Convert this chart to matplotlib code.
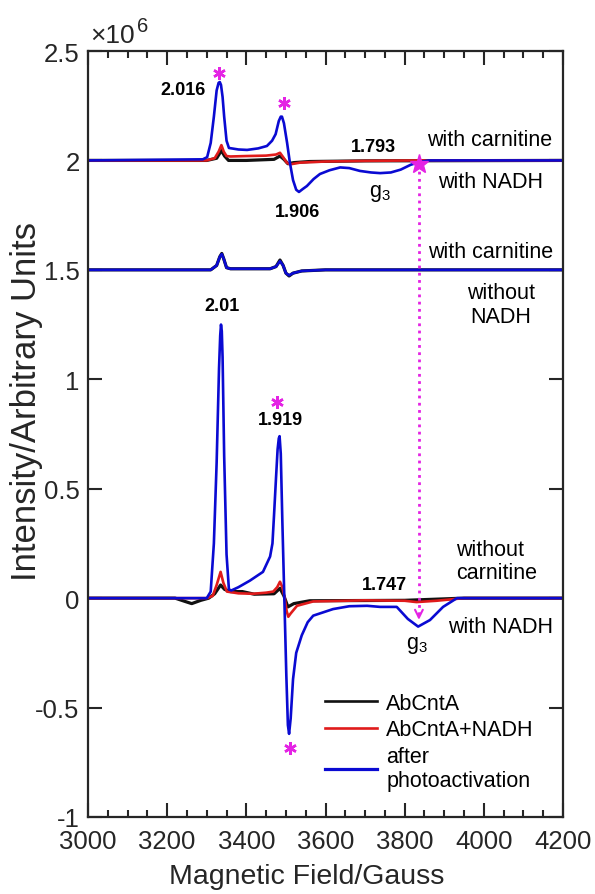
import matplotlib
matplotlib.use("Agg")
import matplotlib.pyplot as plt
from matplotlib.ticker import MultipleLocator, FixedLocator, FixedFormatter

plt.rcParams['font.family'] = ['Liberation Sans', 'DejaVu Sans']
plt.rcParams['mathtext.fontset'] = 'custom'
plt.rcParams['mathtext.rm'] = 'Liberation Sans'
plt.rcParams['mathtext.it'] = 'Liberation Sans:italic'
plt.rcParams['mathtext.bf'] = 'Liberation Sans:bold'

# ---------------- data (intensity in units of 1e6) ----------------
# bottom group: without carnitine / with NADH (offset 0)
bot_black_x = [3000, 3220, 3245, 3262, 3285, 3305, 3320, 3335, 3345, 3360, 3390, 3420, 3470, 3485, 3495, 3505, 3520, 3560, 3800, 3950, 4200]
bot_black_y = [0, 0, -0.015, -0.025, -0.01, 0, 0.02, 0.06, 0.04, 0.03, 0.03, 0.018, 0.02, 0.045, 0.01, -0.04, -0.025, -0.012, -0.01, 0, 0]

bot_red_x = [3000, 3300, 3315, 3325, 3335, 3342, 3351, 3380, 3417, 3450, 3468, 3478, 3485, 3491, 3497, 3502, 3506, 3512, 3528, 3569, 3700, 3800, 3830, 3880, 3950, 4200]
bot_red_y = [0, 0, 0.01, 0.06, 0.12, 0.07, 0.03, 0.022, 0.02, 0.025, 0.03, 0.05, 0.075, 0.05, 0.0, -0.06, -0.085, -0.07, -0.035, -0.015, -0.01, -0.012, -0.018, -0.012, 0.0, 0]

bot_blue_x = [3000, 3100, 3200, 3250, 3300, 3310, 3318, 3325, 3331, 3334, 3336, 3338, 3340, 3344, 3350, 3356, 3362, 3380, 3409, 3442, 3460, 3466, 3470, 3475, 3479, 3482, 3484, 3487, 3491, 3496, 3501, 3505, 3508, 3512, 3518, 3526, 3540, 3555, 3569, 3619, 3660, 3705, 3738, 3780, 3808, 3834, 3864, 3897, 3932, 3950, 4200]
bot_blue_y = [0, 0, 0, 0, 0.0, 0.03, 0.25, 0.62, 1.05, 1.2, 1.25, 1.22, 1.1, 0.65, 0.2, 0.04, 0.035, 0.05, 0.08, 0.12, 0.19, 0.25, 0.38, 0.55, 0.68, 0.73, 0.74, 0.66, 0.35, 0.0, -0.35, -0.58, -0.62, -0.55, -0.37, -0.25, -0.17, -0.11, -0.08, -0.05, -0.037, -0.035, -0.04, -0.04, -0.095, -0.13, -0.10, -0.04, 0.0, 0, 0]

# middle group: with carnitine / without NADH (offset 1.5)
mid_black_x = [3000, 3310, 3325, 3333, 3338, 3343, 3350, 3360, 3460, 3475, 3485, 3493, 3500, 3508, 3518, 3540, 3600, 4200]
mid_black_y = [1.5, 1.5, 1.52, 1.56, 1.575, 1.55, 1.51, 1.505, 1.505, 1.515, 1.545, 1.52, 1.485, 1.472, 1.485, 1.495, 1.5, 1.5]
mid_blue_x = [3000, 3310, 3325, 3333, 3338, 3343, 3350, 3360, 3460, 3475, 3485, 3493, 3500, 3508, 3518, 3540, 3600, 4200]
mid_blue_y = [1.5, 1.5, 1.52, 1.56, 1.572, 1.55, 1.51, 1.505, 1.505, 1.515, 1.54, 1.52, 1.485, 1.475, 1.485, 1.495, 1.5, 1.5]

# top group: with carnitine / with NADH (offset 2.0)
top_black_x = [3000, 3300, 3325, 3337, 3345, 3355, 3400, 3470, 3485, 3495, 3505, 3520, 3560, 3700, 4200]
top_black_y = [2.0, 2.0, 2.01, 2.045, 2.02, 2.0, 2.0, 2.005, 2.02, 2.005, 1.985, 1.99, 1.995, 1.998, 2.0]

top_red_x = [3000, 3300, 3320, 3330, 3337, 3343, 3350, 3360, 3400, 3450, 3475, 3485, 3493, 3502, 3510, 3520, 3536, 3600, 3700, 3836, 4200]
top_red_y = [2.0, 2.0, 2.01, 2.04, 2.07, 2.04, 2.02, 2.018, 2.02, 2.022, 2.027, 2.035, 2.015, 1.99, 1.982, 1.985, 1.99, 1.995, 1.998, 2.0, 2.0]

top_blue_x = [3000, 3290, 3301, 3310, 3318, 3325, 3330, 3333, 3336, 3340, 3344, 3350, 3356, 3380, 3402, 3430, 3452, 3465, 3474, 3482, 3487, 3490, 3495, 3503, 3510, 3518, 3526, 3533, 3543, 3553, 3570, 3586, 3610, 3637, 3660, 3687, 3715, 3738, 3765, 3790, 3815, 3836, 3860, 4200]
top_blue_y = [2.0, 2.005, 2.015, 2.08, 2.2, 2.32, 2.355, 2.358, 2.345, 2.29, 2.2, 2.09, 2.057, 2.05, 2.048, 2.055, 2.066, 2.09, 2.12, 2.18, 2.2, 2.2, 2.17, 2.08, 1.99, 1.91, 1.866, 1.856, 1.87, 1.883, 1.915, 1.938, 1.955, 1.968, 1.965, 1.952, 1.945, 1.942, 1.945, 1.958, 1.98, 1.992, 2.0, 2.0]

legend_labels = ['AbCntA', 'AbCntA+NADH', 'after\nphotoactivation']
x_ticks = [3000, 3200, 3400, 3600, 3800, 4000, 4200]
y_ticks = [-1, -0.5, 0, 0.5, 1, 1.5, 2, 2.5]
y_ticklabels = ['-1', '-0.5', '0', '0.5', '1', '1.5', '2', '2.5']

# ---------------- figure ----------------
W, H = 595, 895
fig = plt.figure(figsize=(W / 100, H / 100), dpi=100)
ax = fig.add_axes([88 / W, 77 / H, 475 / W, 766 / H])

BLACK = '#111111'
RED = '#e01b1b'
BLUE = '#0a0ad2'
MAG = '#e423e4'
LW = 1.9

for xs, ys in [(bot_black_x, bot_black_y), (mid_black_x, mid_black_y), (top_black_x, top_black_y)]:
    ax.plot(xs, ys, color=BLACK, lw=LW + 0.4)
for xs, ys in [(bot_red_x, bot_red_y), (top_red_x, top_red_y)]:
    ax.plot(xs, ys, color=RED, lw=LW)
for xs, ys in [(bot_blue_x, bot_blue_y), (mid_blue_x, mid_blue_y), (top_blue_x, top_blue_y)]:
    ax.plot(xs, ys, color=BLUE, lw=LW)

# legend proxies
h1, = ax.plot([], [], color=BLACK, lw=LW)
h2, = ax.plot([], [], color=RED, lw=LW)
h3, = ax.plot([], [], color=BLUE, lw=LW + 0.4)
ax.legend([h1, h2, h3], legend_labels, loc='upper left',
          bbox_to_anchor=((325 - 88) / 475, (818 - 694) / 766),
          frameon=False, fontsize=15.5, handlelength=2.4, handletextpad=0.45,
          labelspacing=0.25, borderpad=0, borderaxespad=0)

ax.set_xlim(3000, 4200)
ax.set_ylim(-1, 2.5)
ax.xaxis.set_major_locator(FixedLocator(x_ticks))
ax.xaxis.set_minor_locator(MultipleLocator(50))
ax.yaxis.set_major_locator(FixedLocator(y_ticks))
ax.yaxis.set_major_formatter(FixedFormatter(y_ticklabels))
ax.tick_params(which='both', direction='in', top=True, right=True, width=1.5, colors='#262626', labelcolor='#262626')
ax.tick_params(which='major', length=10, labelsize=18.5)
ax.tick_params(axis='y', which='major', pad=6)
ax.tick_params(axis='x', which='major', pad=9)
ax.tick_params(which='minor', length=5)
for s in ax.spines.values():
    s.set_linewidth(1.6)
    s.set_color('#262626')

ax.set_xlabel('Magnetic Field/Gauss', fontsize=20.5, color='#262626')
ax.xaxis.set_label_coords((306.5 - 88) / 475, -0.060)
ax.set_ylabel('Intensity/Arbitrary Units', fontsize=25, color='#262626')
ax.yaxis.set_label_coords(-0.095, 0.544)

fig.text(90 / W, 1 - 43 / H, '\u00d710', fontsize=19, color='#262626', va='baseline', ha='left')
fig.text(137 / W, 1 - 32 / H, '6', fontsize=14.5, color='#262626', va='baseline', ha='left')

# annotations
bold = dict(fontsize=13, fontweight='bold', ha='center', va='center', color='black')
ax.text(3239, 2.326, '2.016', **bold)
ax.text(3720, 2.065, '1.793', **bold)
ax.text(3530, 1.768, '1.906', **bold)
ax.text(3338, 1.336, '2.01', **bold)
ax.text(3485, 0.818, '1.919', **bold)
ax.text(3750, 0.064, '1.747', **bold)

norm = dict(fontsize=15.5, va='center', color='black')
ax.text(3856, 2.097, 'with carnitine', ha='left', **norm)
ax.text(3884, 1.905, 'with NADH', ha='left', **norm)
ax.text(3859, 1.586, 'with carnitine', ha='left', **norm)
ax.text(4043, 1.341, 'without\nNADH', ha='center', multialignment='center', linespacing=1.15, **norm)
ax.text(3930, 0.169, 'without\ncarnitine', ha='left', linespacing=1.15, **norm)
ax.text(3909, -0.128, 'with NADH', ha='left', **norm)
ax.text(3738, 1.855, r'g$_\mathregular{3}$', ha='center', **norm)
ax.text(3830, -0.21, r'g$_\mathregular{3}$', ha='center', **norm)

# asterisks
for (sx, sy) in [(3331, 2.399), (3495, 2.262), (3478, 0.897), (3510, -0.685)]:
    ax.plot([sx], [sy], marker=(6, 2, 0), ms=9, mew=1.8, color=MAG, ls='none')

# dotted g3 connector
ax.plot([3836, 3836], [1.985, -0.075], ls=(0, (1, 1.6)), lw=2, color=MAG)
ax.annotate('', xy=(3836, -0.112), xytext=(3836, -0.06),
            arrowprops=dict(arrowstyle='->', color=MAG, lw=1.5, mutation_scale=14))
ax.plot([3836], [1.985], marker='*', ms=14, color=MAG, ls='none')

fig.savefig('out.png', dpi=100)
